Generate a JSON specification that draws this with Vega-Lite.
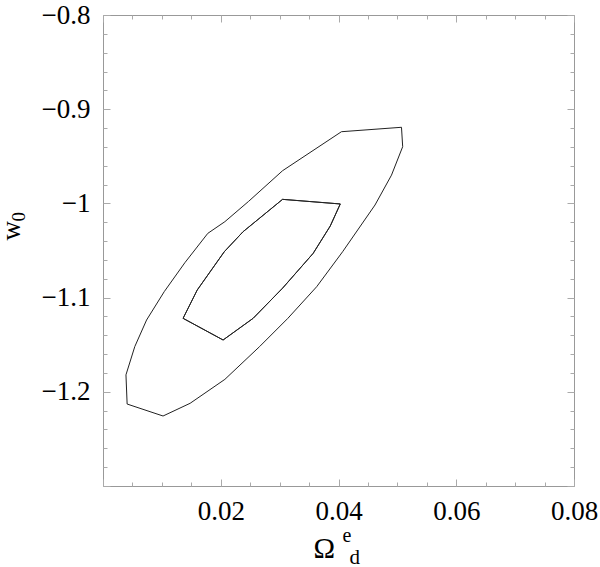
{
  "$schema": "https://vega.github.io/schema/vega-lite/v6.json",
  "width": 471,
  "height": 471,
  "autosize": {"type": "none"},
  "padding": {"left": 103, "top": 15, "right": 26, "bottom": 81},
  "background": "white",
  "config": {
    "view": {"stroke": "#999", "strokeWidth": 1},
    "axis": {
      "domain": false,
      "grid": false,
      "tickColor": "#aaa",
      "labelFont": "Liberation Serif",
      "titleFont": "Liberation Serif",
      "labelColor": "#000",
      "titleColor": "#000",
      "titleFontWeight": "normal",
      "labelFontSize": 27,
      "labelFlush": false,
      "labelOverlap": false,
      "labelBound": false
    }
  },
  "data": {
    "values": [
      {"c": "outer", "i": 0, "x": 0.0507, "y": -0.9192},
      {"c": "outer", "i": 1, "x": 0.0509, "y": -0.9398},
      {"c": "outer", "i": 2, "x": 0.049, "y": -0.970},
      {"c": "outer", "i": 3, "x": 0.0462, "y": -1.0017},
      {"c": "outer", "i": 4, "x": 0.0407, "y": -1.0513},
      {"c": "outer", "i": 5, "x": 0.0363, "y": -1.0884},
      {"c": "outer", "i": 6, "x": 0.0314, "y": -1.122},
      {"c": "outer", "i": 7, "x": 0.0266, "y": -1.152},
      {"c": "outer", "i": 8, "x": 0.0207, "y": -1.1868},
      {"c": "outer", "i": 9, "x": 0.0148, "y": -1.2122},
      {"c": "outer", "i": 10, "x": 0.0102, "y": -1.2257},
      {"c": "outer", "i": 11, "x": 0.0041, "y": -1.213},
      {"c": "outer", "i": 12, "x": 0.0039, "y": -1.182},
      {"c": "outer", "i": 13, "x": 0.0054, "y": -1.152},
      {"c": "outer", "i": 14, "x": 0.0074, "y": -1.1238},
      {"c": "outer", "i": 15, "x": 0.0104, "y": -1.0937},
      {"c": "outer", "i": 16, "x": 0.0139, "y": -1.063},
      {"c": "outer", "i": 17, "x": 0.0178, "y": -1.0318},
      {"c": "outer", "i": 18, "x": 0.0207, "y": -1.0194},
      {"c": "outer", "i": 19, "x": 0.0247, "y": -0.998},
      {"c": "outer", "i": 20, "x": 0.0305, "y": -0.9653},
      {"c": "outer", "i": 21, "x": 0.0405, "y": -0.9239},
      {"c": "outer", "i": 22, "x": 0.0507, "y": -0.9192},
      {"c": "inner", "i": 0, "x": 0.0305, "y": -0.9957},
      {"c": "inner", "i": 1, "x": 0.0403, "y": -1.0006},
      {"c": "inner", "i": 2, "x": 0.0386, "y": -1.024},
      {"c": "inner", "i": 3, "x": 0.0357, "y": -1.053},
      {"c": "inner", "i": 4, "x": 0.0305, "y": -1.09},
      {"c": "inner", "i": 5, "x": 0.0255, "y": -1.122},
      {"c": "inner", "i": 6, "x": 0.0204, "y": -1.145},
      {"c": "inner", "i": 7, "x": 0.0136, "y": -1.122},
      {"c": "inner", "i": 8, "x": 0.016, "y": -1.092},
      {"c": "inner", "i": 9, "x": 0.0206, "y": -1.0513},
      {"c": "inner", "i": 10, "x": 0.0238, "y": -1.03},
      {"c": "inner", "i": 11, "x": 0.0305, "y": -0.9957}
    ]
  },
  "layer": [
    {
      "transform": [{"filter": "datum.c == 'outer'"}],
      "mark": {"type": "line", "color": "#222", "strokeWidth": 1},
      "encoding": {
        "x": {
          "field": "x", "type": "quantitative",
          "scale": {"domain": [0, 0.08], "nice": false, "zero": false},
          "axis": {
            "orient": "bottom",
            "values": [0,0.005,0.01,0.015,0.02,0.025,0.03,0.035,0.04,0.045,0.05,0.055,0.06,0.065,0.07,0.075,0.08],
            "tickSize": {"condition": {"test": "abs(datum.value*50 - round(datum.value*50)) < 1e-6", "value": -7}, "value": -4},
            "labelExpr": "datum.value > 0.01 && abs(datum.value*50 - round(datum.value*50)) < 1e-6 ? format(datum.value, '.2f') : ''",
            "labelPadding": 19,
            "title": "Ω",
            "titleFontSize": 29,
            "titleAlign": "left",
            "titleBaseline": "alphabetic",
            "titleX": 210,
            "titleY": 71
          }
        },
        "y": {
          "field": "y", "type": "quantitative",
          "scale": {"domain": [-1.3, -0.8], "nice": false, "zero": false},
          "axis": {
            "orient": "left",
            "values": [-1.3,-1.28,-1.26,-1.24,-1.22,-1.2,-1.18,-1.16,-1.14,-1.12,-1.1,-1.08,-1.06,-1.04,-1.02,-1,-0.98,-0.96,-0.94,-0.92,-0.9,-0.88,-0.86,-0.84,-0.82,-0.8],
            "tickSize": {"condition": {"test": "abs(datum.value*10 - round(datum.value*10)) < 1e-6", "value": -7}, "value": -4},
            "labelExpr": "datum.value > -1.25 && abs(datum.value*10 - round(datum.value*10)) < 1e-6 ? format(datum.value, '.1~f') : ''",
            "labelPadding": 20,
            "title": "w",
            "titleFontSize": 27,
            "titleAngle": 270,
            "titleAlign": "left",
            "titleBaseline": "alphabetic",
            "titleX": -84,
            "titleY": 225
          }
        },
        "order": {"field": "i", "type": "quantitative"}
      }
    },
    {
      "transform": [{"filter": "datum.c == 'inner'"}],
      "mark": {"type": "line", "color": "#222", "strokeWidth": 1},
      "encoding": {
        "x": {
          "field": "x", "type": "quantitative",
          "scale": {"domain": [0, 0.08], "nice": false, "zero": false},
          "axis": {
            "orient": "top",
            "values": [0,0.005,0.01,0.015,0.02,0.025,0.03,0.035,0.04,0.045,0.05,0.055,0.06,0.065,0.07,0.075,0.08],
            "tickSize": {"condition": {"test": "abs(datum.value*50 - round(datum.value*50)) < 1e-6", "value": -7}, "value": -4},
            "labels": false,
            "title": "e",
            "titleFontSize": 20,
            "titleAlign": "left",
            "titleBaseline": "alphabetic",
            "titleX": 239,
            "titleY": 526
          }
        },
        "y": {
          "field": "y", "type": "quantitative",
          "scale": {"domain": [-1.3, -0.8], "nice": false, "zero": false},
          "axis": {
            "orient": "right",
            "values": [-1.3,-1.28,-1.26,-1.24,-1.22,-1.2,-1.18,-1.16,-1.14,-1.12,-1.1,-1.08,-1.06,-1.04,-1.02,-1,-0.98,-0.96,-0.94,-0.92,-0.9,-0.88,-0.86,-0.84,-0.82,-0.8],
            "tickSize": {"condition": {"test": "abs(datum.value*10 - round(datum.value*10)) < 1e-6", "value": -7}, "value": -4},
            "labels": false,
            "title": "0",
            "titleFontSize": 19,
            "titleAngle": 270,
            "titleAlign": "left",
            "titleBaseline": "alphabetic",
            "titleX": -550,
            "titleY": 206
          }
        },
        "order": {"field": "i", "type": "quantitative"}
      }
    },
    {
      "transform": [{"filter": "datum.c == 'inner'"}],
      "mark": {"type": "line", "color": "#222", "strokeWidth": 1},
      "encoding": {
        "x": {
          "field": "x", "type": "quantitative",
          "scale": {"domain": [0, 0.08], "nice": false, "zero": false},
          "axis": {
            "orient": "bottom",
            "ticks": false,
            "labels": false,
            "title": "d",
            "titleFontSize": 21,
            "titleAlign": "left",
            "titleBaseline": "alphabetic",
            "titleX": 246,
            "titleY": 77
          }
        },
        "y": {
          "field": "y", "type": "quantitative",
          "scale": {"domain": [-1.3, -0.8], "nice": false, "zero": false},
          "axis": null
        },
        "order": {"field": "i", "type": "quantitative"}
      }
    }
  ],
  "resolve": {"axis": {"x": "independent", "y": "independent"}}
}
